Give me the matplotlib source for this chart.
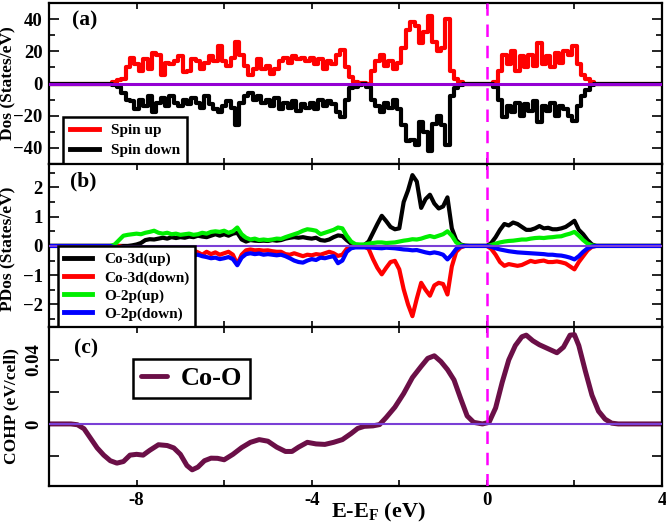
import numpy as np
import matplotlib
matplotlib.use('Agg')
import matplotlib.pyplot as plt
from matplotlib.ticker import MultipleLocator, FixedLocator

plt.rcParams['font.family'] = ['Liberation Serif', 'DejaVu Serif']
plt.rcParams['font.weight'] = 'bold'
plt.rcParams['mathtext.fontset'] = 'custom'
plt.rcParams['mathtext.rm'] = 'Liberation Serif:bold'
plt.rcParams['mathtext.bf'] = 'Liberation Serif:bold'
plt.rcParams['mathtext.it'] = 'Liberation Serif:bold'

# energy grid for (a) and (b): -10 .. 4 eV, step 0.1 eV (one row = 1 eV)
energy = np.round(np.linspace(-10, 4, 141), 2)

# (a) total DOS
spin_up = [0, 0, 0, 0, 0, 0, 0, 0, 0, 0,
           0, 0, 0, 0, 0, 1, 2, 3, 10, 16,
           12, 8, 15, 9, 19, 18, 5, 13, 12, 14,
           17, 7, 8, 15, 14, 9, 13, 17, 14, 23,
           14, 11, 16, 26, 18, 11, 5, 9, 15, 9,
           11, 6, 9, 14, 16, 13, 17, 15, 16, 14,
           16, 12, 15, 9, 14, 12, 18, 21, 10, 4,
           1, 0.5, 0.5, 0, 8, 14, 18, 11, 14, 9,
           13, 22, 33, 38, 36, 25, 32, 42, 26, 20,
           22, 40, 8, 3, 1, 0, 0, 0, 0, 0,
           0, 0, 1, 8, 18, 12, 20, 8, 17, 10,
           18, 11, 25, 12, 17, 10, 19, 13, 20, 18,
           23, 12, 5, 3, 1, 0, 0, 0, 0, 0,
           0, 0, 0, 0, 0, 0, 0, 0, 0, 0,
           0]
spin_down = [0, 0, 0, 0, 0, 0, 0, 0, 0, 0,
             0, 0, 0, 0, 0, -1, -2, -6, -10, -11,
             -16, -10, -14, -8, -18, -12, -9, -14, -8, -12,
             -14, -10, -13, -9, -12, -15, -8, -13, -16, -18,
             -14, -11, -15, -26, -12, -8, -6, -10, -8, -12,
             -10, -14, -9, -16, -12, -15, -11, -17, -13, -15,
             -12, -16, -10, -14, -11, -13, -18, -21, -10, -3,
             -2, -1, -0.5, -2, -10, -14, -18, -12, -15, -10,
             -16, -26, -36, -35, -38, -24, -30, -42, -25, -20,
             -26, -38, -8, -3, -1, 0, 0, 0, 0, 0,
             0, 0, -2, -10, -21, -14, -18, -12, -20, -13,
             -17, -11, -24, -14, -17, -12, -20, -14, -16, -20,
             -23, -14, -8, -4, -1, 0, 0, 0, 0, 0,
             0, 0, 0, 0, 0, 0, 0, 0, 0, 0,
             0]

# (b) partial DOS
co3d_up = [0, 0, 0, 0, 0, 0, 0, 0, 0, 0,
           0, 0, 0, 0, 0, 0, 0, 0, 0, 0.02,
           0.05, 0.1, 0.2, 0.23, 0.22, 0.25, 0.28, 0.25, 0.3, 0.27,
           0.3, 0.28, 0.32, 0.3, 0.35, 0.32, 0.3, 0.35, 0.4, 0.35,
           0.4, 0.35, 0.42, 0.45, 0.22, 0.15, 0.2, 0.18, 0.17, 0.18,
           0.17, 0.2, 0.18, 0.2, 0.25, 0.28, 0.3, 0.28, 0.3, 0.27,
           0.25, 0.28, 0.2, 0.18, 0.22, 0.3, 0.36, 0.34, 0.2, 0.08,
           0.03, 0.02, 0.03, 0.15, 0.45, 0.75, 1.03, 0.85, 0.65, 0.57,
           0.6, 1.5, 1.9, 2.42, 2.2, 1.3, 1.6, 1.75, 1.45, 1.28,
           1.35, 1.66, 0.6, 0.2, 0.05, 0.01, 0, 0, 0, 0,
           0, 0.1, 0.3, 0.55, 0.75, 0.7, 0.8, 0.75, 0.65, 0.55,
           0.55, 0.6, 0.68, 0.6, 0.62, 0.57, 0.57, 0.6, 0.65, 0.75,
           0.86, 0.55, 0.4, 0.2, 0.05, 0, 0, 0, 0, 0,
           0, 0, 0, 0, 0, 0, 0, 0, 0, 0,
           0]
co3d_down = [0, 0, 0, 0, 0, 0, 0, 0, 0, 0,
             0, 0, 0, 0, 0, 0, 0, -0.05, -0.1, -0.15,
             -0.15, -0.18, -0.2, -0.22, -0.2, -0.25, -0.22, -0.25, -0.2, -0.22,
             -0.2, -0.18, -0.2, -0.15, -0.22, -0.3, -0.2, -0.28, -0.22, -0.3,
             -0.25, -0.2, -0.3, -0.63, -0.3, -0.15, -0.12, -0.15, -0.14, -0.16,
             -0.15, -0.18, -0.2, -0.2, -0.28, -0.3, -0.25, -0.3, -0.35, -0.3,
             -0.32, -0.28, -0.3, -0.25, -0.2, -0.25, -0.34, -0.3, -0.1, -0.03,
             -0.02, -0.02, -0.02, -0.1, -0.45, -0.75, -0.97, -0.75, -0.55, -0.51,
             -0.8, -1.48, -2.0, -2.4, -1.8, -1.26, -1.5, -1.7, -1.35, -1.26,
             -1.3, -1.66, -0.7, -0.2, -0.05, 0, 0, 0, 0, 0,
             0, -0.1, -0.3, -0.55, -0.68, -0.62, -0.65, -0.68, -0.65, -0.58,
             -0.51, -0.55, -0.52, -0.5, -0.55, -0.55, -0.53, -0.56, -0.6, -0.7,
             -0.8, -0.55, -0.35, -0.15, -0.03, 0, 0, 0, 0, 0,
             0, 0, 0, 0, 0, 0, 0, 0, 0, 0,
             0]
o2p_up = [0, 0, 0, 0, 0, 0, 0, 0, 0, 0,
          0, 0, 0, 0, 0, 0.05, 0.2, 0.35, 0.38, 0.4,
          0.42, 0.4, 0.45, 0.48, 0.52, 0.45, 0.42, 0.45, 0.4, 0.42,
          0.38, 0.4, 0.42, 0.38, 0.4, 0.45, 0.42, 0.48, 0.5, 0.48,
          0.52, 0.45, 0.5, 0.63, 0.4, 0.28, 0.22, 0.25, 0.2, 0.22,
          0.2, 0.22, 0.25, 0.24, 0.3, 0.35, 0.4, 0.45, 0.52, 0.57,
          0.55, 0.52, 0.4, 0.45, 0.5, 0.55, 0.63, 0.6, 0.35, 0.15,
          0.06, 0.05, 0.05, 0.08, 0.1, 0.12, 0.12, 0.1, 0.11, 0.12,
          0.15, 0.18, 0.2, 0.23, 0.22, 0.25, 0.3, 0.34, 0.3, 0.35,
          0.4, 0.5, 0.35, 0.12, 0.03, 0, 0, 0, 0, 0,
          0, 0.03, 0.08, 0.12, 0.15, 0.17, 0.18, 0.2, 0.22, 0.22,
          0.25, 0.27, 0.28, 0.27, 0.29, 0.3, 0.32, 0.33, 0.38, 0.42,
          0.48, 0.35, 0.2, 0.08, 0.02, 0, 0, 0, 0, 0,
          0, 0, 0, 0, 0, 0, 0, 0, 0, 0,
          0]
o2p_down = [0, 0, 0, 0, 0, 0, 0, 0, 0, 0,
            0, 0, 0, 0, 0, -0.05, -0.2, -0.3, -0.33, -0.35,
            -0.38, -0.35, -0.4, -0.42, -0.45, -0.4, -0.38, -0.42, -0.36, -0.38,
            -0.35, -0.33, -0.36, -0.32, -0.3, -0.35, -0.38, -0.42, -0.4, -0.45,
            -0.42, -0.38, -0.45, -0.66, -0.4, -0.28, -0.25, -0.28, -0.26, -0.3,
            -0.28, -0.3, -0.32, -0.3, -0.35, -0.42, -0.5, -0.55, -0.57, -0.5,
            -0.45, -0.48, -0.4, -0.42, -0.38, -0.35, -0.59, -0.5, -0.2, -0.08,
            -0.05, -0.05, -0.05, -0.05, -0.06, -0.07, -0.08, -0.06, -0.07, -0.08,
            -0.1, -0.12, -0.13, -0.15, -0.14, -0.18, -0.22, -0.25, -0.22, -0.25,
            -0.3, -0.46, -0.3, -0.1, -0.02, 0, 0, 0, 0, 0,
            0, -0.03, -0.08, -0.12, -0.15, -0.18, -0.2, -0.22, -0.23, -0.24,
            -0.25, -0.26, -0.27, -0.28, -0.3, -0.3, -0.32, -0.33, -0.36, -0.4,
            -0.46, -0.35, -0.2, -0.08, -0.02, 0, 0, 0, 0, 0,
            0, 0, 0, 0, 0, 0, 0, 0, 0, 0,
            0]

# (c) COHP Co-O
cohp_e = [-10.0, -9.5, -9.35, -9.2, -9.05, -8.9, -8.75, -8.6, -8.45, -8.3,
          -8.15, -8.0, -7.85, -7.7, -7.5, -7.3, -7.15, -7.0, -6.85, -6.73,
          -6.6, -6.45, -6.3, -6.15, -6.0, -5.8, -5.6, -5.4, -5.2, -5.0,
          -4.8, -4.6, -4.45, -4.3, -4.1, -3.9, -3.7, -3.5, -3.3, -3.1,
          -2.95, -2.8, -2.6, -2.45, -2.3, -2.1, -1.9, -1.7, -1.5, -1.35,
          -1.2, -1.05, -0.9, -0.75, -0.6, -0.45, -0.3, -0.1, 0.05, 0.2,
          0.35, 0.5, 0.65, 0.8, 0.9, 1.05, 1.2, 1.4, 1.6, 1.75,
          1.9, 2.0, 2.1, 2.25, 2.4, 2.55, 2.7, 2.85, 3.0, 4.0]
cohp_v = [0, 0, -0.0005, -0.003, -0.009, -0.015, -0.0195, -0.023, -0.0245, -0.0235,
          -0.0195, -0.019, -0.0195, -0.0165, -0.013, -0.0135, -0.015, -0.019, -0.026, -0.0287,
          -0.027, -0.023, -0.0214, -0.0215, -0.0224, -0.019, -0.0148, -0.0115, -0.0098, -0.0108,
          -0.0145, -0.0172, -0.0172, -0.0145, -0.0115, -0.0125, -0.0128, -0.0115, -0.0098, -0.006,
          -0.0028, -0.0015, -0.0012, -0.0004, 0.004, 0.0105, 0.019, 0.029, 0.036, 0.041,
          0.0426, 0.039, 0.034, 0.0275, 0.016, 0.005, 0.001, 0.0, 0.001, 0.01,
          0.026, 0.04, 0.049, 0.0545, 0.0555, 0.052, 0.0495, 0.047, 0.0445, 0.048,
          0.0555, 0.0558, 0.049, 0.033, 0.018, 0.008, 0.003, 0.0005, 0, 0]

W, H = 666, 529
fig = plt.figure(figsize=(W / 100, H / 100), dpi=100)
left, right = 49, 662


def make_ax(top, bottom):
    return fig.add_axes([left / W, 1 - bottom / H, (right - left) / W, (bottom - top) / H])


ax1 = make_ax(3, 164)
ax2 = make_ax(164, 327)
ax3 = make_ax(327, 486)

for ax in (ax1, ax2, ax3):
    ax.set_xlim(-10, 4)
    ax.xaxis.set_major_locator(MultipleLocator(4))
    ax.xaxis.set_minor_locator(MultipleLocator(2))
    ax.tick_params(which='both', direction='in', top=True, right=True, width=1.2,
                   labelsize=13.5, pad=4.5)
    ax.tick_params(axis='x', which='both', length=4.5)
    ax.tick_params(axis='y', which='major', length=7)
    ax.tick_params(axis='y', which='minor', length=4)
    for s in ax.spines.values():
        s.set_linewidth(1.6)
    ax.axvline(0, color='#ff00ff', lw=1.8, ls=(0, (5, 3.5)), zorder=6)

ax1.tick_params(labelbottom=False)
ax2.tick_params(labelbottom=False)

# (a)
ax1.plot(energy, spin_up, color='red', lw=3, drawstyle='steps-mid', label='Spin up')
ax1.plot(energy, spin_down, color='black', lw=3, drawstyle='steps-mid', label='Spin down')
ax1.axhline(0, color='#9400d3', lw=2.2, zorder=5)
ax1.set_ylim(-50, 50)
ax1.yaxis.set_major_locator(MultipleLocator(20))
ax1.yaxis.set_minor_locator(MultipleLocator(10))
ax1.set_ylabel('Dos (States/eV)', fontsize=12.5, fontweight='bold')
ax1.yaxis.set_label_coords(-0.054, 0.5)
ax1.text(0.037, 0.89, '(a)', transform=ax1.transAxes, fontsize=15.5, va='center')
leg = ax1.legend(loc='lower left', bbox_to_anchor=(14 / 613, 0.0), borderaxespad=0,
                 fontsize=11, handlelength=1.9, labelspacing=0.4, borderpad=0.45,
                 fancybox=False, framealpha=1, edgecolor='black')
leg.get_frame().set_linewidth(1.8)
for l in leg.get_lines():
    l.set_linewidth(3.5)

# (b)
ax2.plot(energy, co3d_up, color='black', lw=3, label='Co-3d(up)')
ax2.plot(energy, co3d_down, color='red', lw=3, label='Co-3d(down)')
ax2.plot(energy, o2p_up, color='#00ee00', lw=3, label='O-2p(up)')
ax2.plot(energy, o2p_down, color='blue', lw=3, label='O-2p(down)')
ax2.axhline(0, color='#7a3fd6', lw=1.5, zorder=5)
ax2.set_ylim(-2.77, 2.8)
ax2.yaxis.set_major_locator(MultipleLocator(1))
ax2.yaxis.set_minor_locator(MultipleLocator(0.5))
ax2.set_ylabel('PDos (States/eV)', fontsize=12.5, fontweight='bold')
ax2.yaxis.set_label_coords(-0.054, 0.48)
ax2.text(0.034, 0.89, '(b)', transform=ax2.transAxes, fontsize=15.5, va='center')
leg = ax2.legend(loc='lower left', bbox_to_anchor=(9 / 613, 0.0), borderaxespad=0,
                 fontsize=11, handlelength=1.8, labelspacing=0.28, borderpad=0.4,
                 fancybox=False, framealpha=1, edgecolor='black')
leg.get_frame().set_linewidth(1.8)
for l in leg.get_lines():
    l.set_linewidth(3.5)

# (c)
ax3.plot(cohp_e, cohp_v, color='#6b0f47', lw=3.6, label='Co-O', solid_capstyle='round')
ax3.axhline(0, color='#7a3fd6', lw=1.5, zorder=5)
ax3.set_ylim(-0.0388, 0.0606)
ax3.yaxis.set_major_locator(FixedLocator([0, 0.04]))
ax3.yaxis.set_minor_locator(FixedLocator([-0.02, 0.02]))
ax3.tick_params(axis='y', which='minor', length=7)
ax3.set_yticklabels(['0', '0.04'], rotation=90, va='center')
ax3.set_xticks([-8, -4, 0, 4])
ax3.set_xticklabels(['-8', '-4', '0', '4'])
ax3.set_ylabel('COHP (eV/cell)', fontsize=12.5, fontweight='bold')
ax3.yaxis.set_label_coords(-0.048, 0.5)
ax3.text(0.04, 0.868, '(c)', transform=ax3.transAxes, fontsize=15.5, va='center')
leg = ax3.legend(loc='upper left', bbox_to_anchor=(84 / 613, 0.80), borderaxespad=0,
                 fontsize=19, handlelength=1.0, borderpad=0.3, handletextpad=0.5,
                 fancybox=False, framealpha=1, edgecolor='black')
leg.get_frame().set_linewidth(1.8)
for l in leg.get_lines():
    l.set_linewidth(3.5)
ax3.set_xlabel(r'E-E$_\mathrm{F}$ (eV)', fontsize=16, fontweight='bold')
ax3.xaxis.set_label_coords(0.538, -0.095)

fig.savefig('out.png', dpi=100)
